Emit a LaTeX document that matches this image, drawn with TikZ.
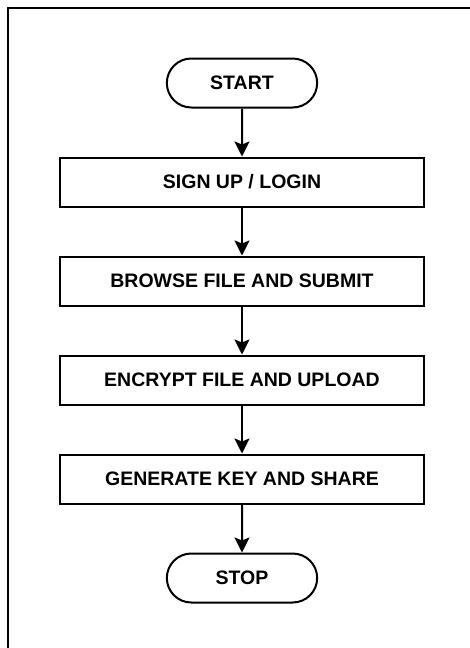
\documentclass[tikz,border=0pt]{standalone}
\usepackage{fontspec}
\setmainfont{Liberation Sans}
\usetikzlibrary{positioning,arrows.meta,shapes.misc}

\begin{document}
\begin{tikzpicture}[x=1pt,y=-1pt,
    node distance=48pt,
    every node/.style={font=\bfseries\fontsize{19.5}{22}\selectfont,line width=2pt},
    term/.style={draw,rounded rectangle,minimum width=157pt,minimum height=49pt},
    proc/.style={draw,rectangle,minimum width=364pt,minimum height=49pt},
    flow/.style={-{Stealth[length=15pt,width=15pt,inset=3pt]},line width=2pt}]
    \useasboundingbox (0,0) rectangle (470,648);
    \draw[line width=2pt] (8,700) -- (8,8) -- (520,8);
    \node[term] (start) at (242,83) {START};
    \node[proc,below=of start] (signup) {SIGN UP / LOGIN};
    \node[proc,below=of signup] (browse) {BROWSE FILE AND SUBMIT};
    \node[proc,below=of browse] (encrypt) {ENCRYPT FILE AND UPLOAD};
    \node[proc,below=of encrypt] (genkey) {GENERATE KEY AND SHARE};
    \node[term,below=of genkey] (stop) {STOP};
    \foreach \u/\v in {start/signup,signup/browse,browse/encrypt,encrypt/genkey,genkey/stop}
      \draw[flow] (\u) -- (\v);
\end{tikzpicture}
\end{document}
